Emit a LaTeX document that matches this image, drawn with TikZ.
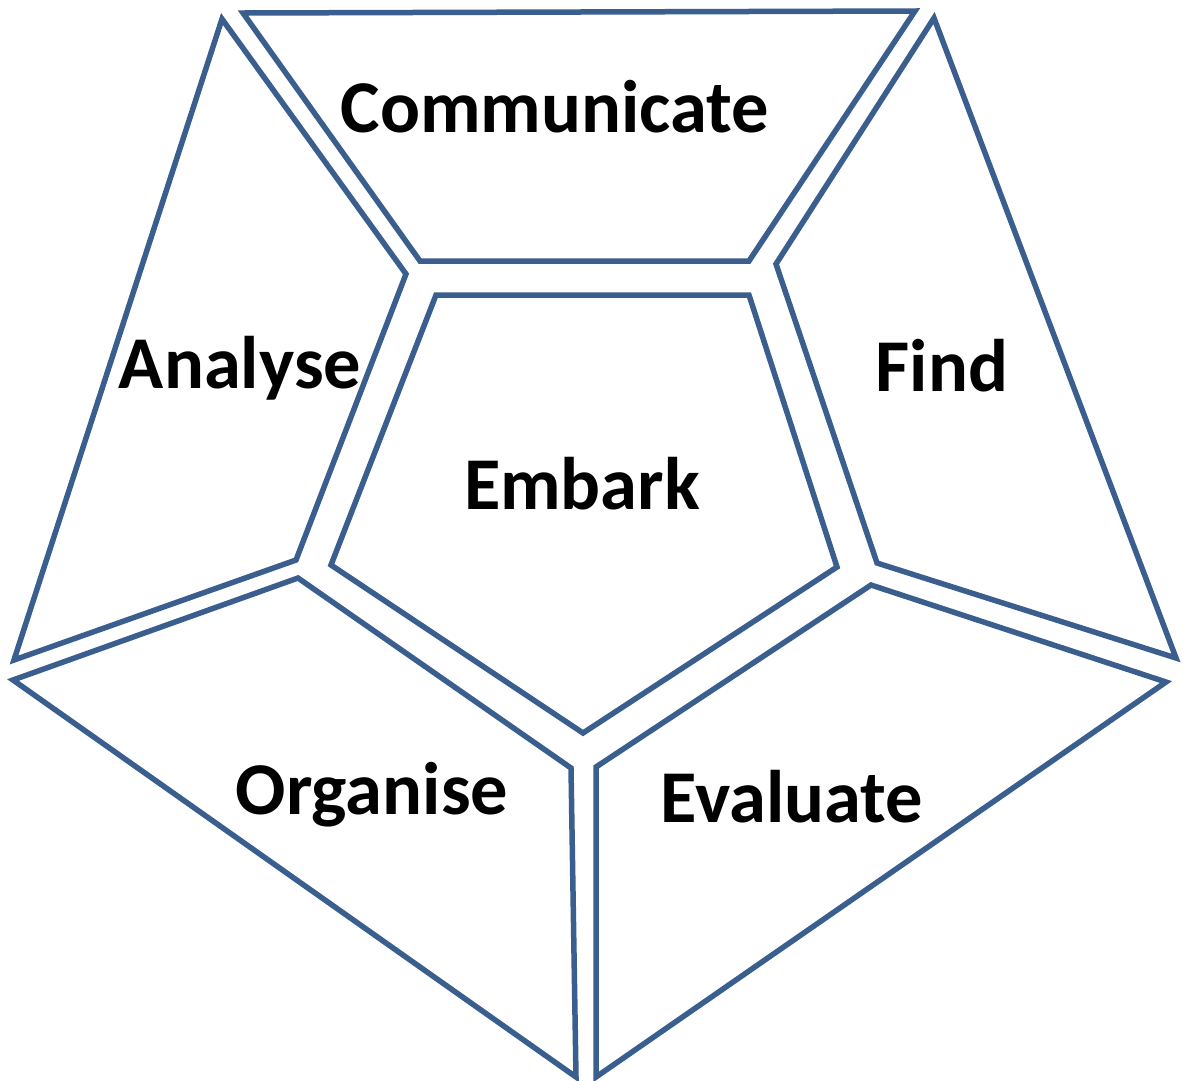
\documentclass[tikz,border=0pt]{standalone}
\usepackage{fontspec}
\setmainfont{Carlito}
\definecolor{edgeblue}{HTML}{3A5F8E}
\begin{document}
\begin{tikzpicture}[x=1pt,y=-1pt,
  seg/.style={draw=edgeblue,line width=5.5pt,line join=miter},
  lbl/.style={font=\fontsize{74.5}{78}\selectfont\bfseries,inner sep=0pt,anchor=center}]
\useasboundingbox (0,0) rectangle (1186,1080);
\draw[seg] (436,295) -- (749,295) -- (837,567) -- (583,733) -- (331,565) -- cycle;
\draw[seg] (243,13) -- (915,11) -- (749,261) -- (420,261) -- cycle;
\draw[seg] (934,18) -- (1176,658) -- (877,563) -- (776,264) -- cycle;
\draw[seg] (1166,682) -- (596,1077) -- (596,767) -- (871,585) -- cycle;
\draw[seg] (13,680) -- (298,578) -- (571,768) -- (576,1077) -- cycle;
\draw[seg] (222,19) -- (406,274) -- (296,560) -- (14,660) -- cycle;
\node[lbl] (communicate) at (555,107) {Communicate};
\node[lbl] (analyse) at (240,368) {Analyse};
\node[lbl] (find) at (942,366) {Find};
\node[lbl] (embark) at (582,484) {Embark};
\node[lbl] (organise) at (372,795) {Organise};
\node[lbl] (evaluate) at (792,797) {Evaluate};
\end{tikzpicture}
\end{document}
